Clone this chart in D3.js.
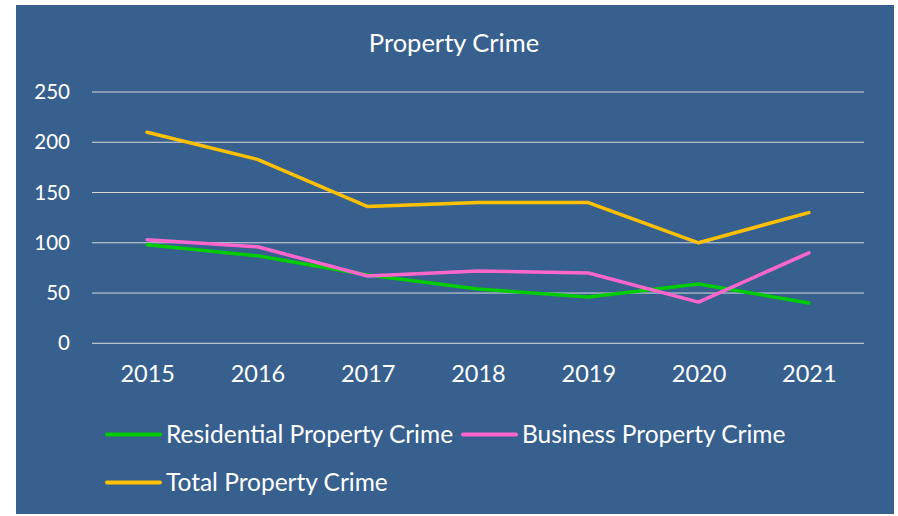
<!DOCTYPE html>
<html>
<head>
<meta charset="utf-8">
<script src="https://cdn.jsdelivr.net/npm/d3@7"></script>
<style>
  html, body { margin: 0; padding: 0; background: #ffffff; }
  svg { display: block; font-family: Lato, "Open Sans", sans-serif; }
</style>
</head>
<body>
<svg id="chart" width="898" height="516"></svg>
<script>
// Property crime counts by year
const years = ["2015", "2016", "2017", "2018", "2019", "2020", "2021"];
const residential = [98, 87, 68, 54, 46, 59, 40];
const business = [103, 96, 67, 72, 70, 41, 90];
const total = [210, 183, 136, 140, 140, 100, 130];
const yTicks = [0, 50, 100, 150, 200, 250];

const seriesNames = ["Residential Property Crime", "Business Property Crime", "Total Property Crime"];
const seriesColors = ["#00cc00", "#ff66cc", "#ffc000"];
const seriesValues = [residential, business, total];

const svg = d3.select("#chart");

// Panel background
svg.append("rect")
  .attr("x", 16).attr("y", 5)
  .attr("width", 878).attr("height", 509)
  .attr("fill", "#37608f");

const plot = { left: 92, right: 864, top: 92, bottom: 343.3 };

const x = d3.scalePoint()
  .domain(years)
  .range([plot.left, plot.right])
  .padding(0.5);

const y = d3.scaleLinear()
  .domain([0, 250])
  .range([plot.bottom, plot.top]);

// Title
svg.append("text")
  .attr("x", 454).attr("y", 52)
  .attr("text-anchor", "middle")
  .attr("fill", "#ffffff")
  .attr("font-size", 25.5)
  .text("Property Crime");

// Horizontal gridlines
svg.append("g")
  .selectAll("line")
  .data(yTicks)
  .join("line")
  .attr("x1", plot.left).attr("x2", plot.right)
  .attr("y1", d => y(d)).attr("y2", d => y(d))
  .attr("stroke", "#d9d9d9")
  .attr("stroke-width", 1);

// Y axis labels
const yAxis = d3.axisLeft(y).tickValues(yTicks).tickSize(0).tickPadding(0);
const gy = svg.append("g")
  .attr("transform", "translate(70,0)")
  .call(yAxis);
gy.select(".domain").remove();
gy.selectAll("text")
  .attr("fill", "#ffffff")
  .attr("font-size", 20.5)
  .attr("font-family", "Lato, 'Open Sans', sans-serif");

// X axis labels
const xAxis = d3.axisBottom(x).tickSize(0).tickPadding(0);
const gx = svg.append("g")
  .attr("transform", "translate(0,365)")
  .call(xAxis);
gx.select(".domain").remove();
gx.selectAll("text")
  .attr("fill", "#ffffff")
  .attr("font-size", 23.5)
  .attr("font-family", "Lato, 'Open Sans', sans-serif");

// Series lines
const line = d3.line()
  .x((d, i) => x(years[i]))
  .y(d => y(d));

svg.append("g")
  .selectAll("path")
  .data(seriesValues)
  .join("path")
  .attr("d", d => line(d))
  .attr("fill", "none")
  .attr("stroke", (d, i) => seriesColors[i])
  .attr("stroke-width", 3.5)
  .attr("stroke-linejoin", "round")
  .attr("stroke-linecap", "round");

// Legend
const legendItems = [
  { name: seriesNames[0], color: seriesColors[0], x: 106, y: 434.5 },
  { name: seriesNames[1], color: seriesColors[1], x: 462, y: 434.5 },
  { name: seriesNames[2], color: seriesColors[2], x: 106, y: 482.5 }
];
const lg = svg.append("g")
  .selectAll("g")
  .data(legendItems)
  .join("g")
  .attr("transform", d => `translate(${d.x},${d.y})`);
lg.append("line")
  .attr("x1", 1).attr("x2", 54)
  .attr("y1", 0).attr("y2", 0)
  .attr("stroke", d => d.color)
  .attr("stroke-width", 4)
  .attr("stroke-linecap", "round");
lg.append("text")
  .attr("x", 60).attr("y", 8.5)
  .attr("fill", "#ffffff")
  .attr("font-size", 24.5)
  .text(d => d.name);
</script>
</body>
</html>
